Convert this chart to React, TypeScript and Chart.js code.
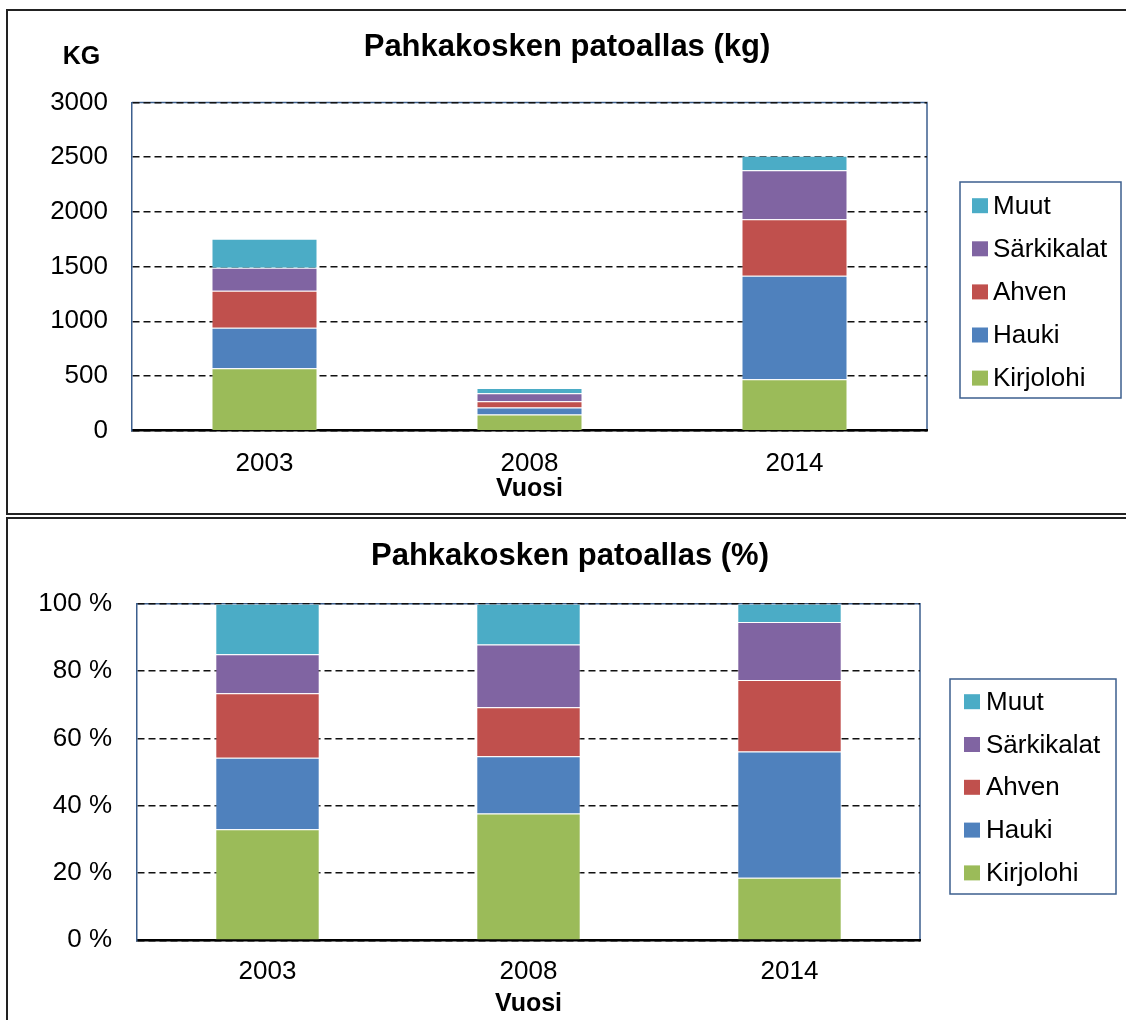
import React, { useEffect, useRef } from "react";
import { Chart, registerables } from "chart.js";

Chart.register(...registerables);

const FONT = "'Liberation Sans', Arial, sans-serif";
Chart.defaults.font.family = FONT;

// ---- data ----
const years = ["2003", "2008", "2014"];
const seriesNames = ["Kirjolohi", "Hauki", "Ahven", "Särkikalat", "Muut"];
const seriesColors = ["#9BBB59", "#4F81BD", "#C0504D", "#8064A2", "#4BACC6"];

// kilograms
const kgKirjolohi = [570, 147, 470];
const kgHauki = [371, 66, 947];
const kgAhven = [339, 57, 515];
const kgSarkikalat = [210, 73, 448];
const kgMuut = [265, 47, 134];

// percent shares
const pctKirjolohi = [33.0, 37.7, 18.6];
const pctHauki = [21.2, 17.0, 37.5];
const pctAhven = [19.2, 14.5, 21.2];
const pctSarkikalat = [11.6, 18.7, 17.3];
const pctMuut = [15.0, 12.1, 5.4];

const kgMax = 3000;
const kgStep = 500;
const pctMax = 100;
const pctStep = 20;

const titleKg = "Pahkakosken patoallas (kg)";
const titlePct = "Pahkakosken patoallas (%)";
const xTitle = "Vuosi";
const yUnitKg = "KG";

const FRAME = "#3C5F8E";

type Spec = {
  top: number;
  height: number;
  area: { left: number; right: number; top: number; bottom: number };
  yLabelRight: number;
  xLabelCenter: number;
  xTitleCenter: number;
  title: string;
  titleX: number;
  titleY: number;
  unit?: string;
  unitX?: number;
  unitY?: number;
  legend: { x: number; y: number; w: number; h: number; sqX: number; textX: number; firstRow: number; rowGap: number };
  series: number[][];
  max: number;
  step: number;
  fmt: (v: number) => string;
};

const W = 1126;

function StackChart({ spec }: { spec: Spec }) {
  const ref = useRef<HTMLCanvasElement>(null);
  useEffect(() => {
    const canvas = ref.current!;
    const s = spec;
    const overlay = {
      id: "overlay",
      beforeDraw(chart: any) {
        const { ctx, chartArea: a } = chart;
        ctx.save();
        ctx.strokeStyle = FRAME;
        ctx.lineWidth = 1.5;
        ctx.beginPath();
        ctx.moveTo(a.left, a.top);
        ctx.lineTo(a.right, a.top);
        ctx.lineTo(a.right, a.bottom);
        ctx.stroke();
        ctx.restore();
      },
      afterDraw(chart: any) {
        const ctx = chart.ctx;
        ctx.save();
        ctx.fillStyle = "#000";
        ctx.textAlign = "center";
        ctx.textBaseline = "middle";
        ctx.font = `bold 31px ${FONT}`;
        ctx.fillText(s.title, s.titleX, s.titleY);
        if (s.unit) {
          ctx.font = `bold 25px ${FONT}`;
          ctx.fillText(s.unit, s.unitX, s.unitY);
        }
        const lb = s.legend;
        ctx.fillStyle = "#fff";
        ctx.fillRect(lb.x, lb.y, lb.w, lb.h);
        ctx.strokeStyle = FRAME;
        ctx.lineWidth = 1.5;
        ctx.strokeRect(lb.x, lb.y, lb.w, lb.h);
        ctx.textAlign = "left";
        ctx.font = `26px ${FONT}`;
        const ds = chart.data.datasets;
        for (let k = 0; k < ds.length; k++) {
          const d = ds[ds.length - 1 - k];
          const cy = lb.firstRow + k * lb.rowGap;
          ctx.fillStyle = d.backgroundColor;
          ctx.fillRect(lb.sqX, cy - 7.5, 16, 15);
          ctx.fillStyle = "#000";
          ctx.fillText(d.label, lb.textX, cy + 1);
        }
        ctx.restore();
      },
    };

    const xAxisH = s.height - s.area.bottom;
    const tickLine = 26 * 1.2;
    const chart = new Chart(canvas, {
      type: "bar",
      data: {
        labels: years,
        datasets: s.series.map((vals, i) => ({
          label: seriesNames[i],
          data: vals,
          backgroundColor: seriesColors[i],
          borderColor: "rgba(255,255,255,0.35)",
          borderWidth: 1,
          categoryPercentage: 1,
          barPercentage: 0.4,
        })),
      },
      options: {
        responsive: false,
        animation: false,
        devicePixelRatio: 1,
        layout: {
          padding: { left: 0, top: s.area.top, right: W - s.area.right, bottom: 0 },
        },
        plugins: {
          legend: { display: false },
          title: { display: false },
          tooltip: { enabled: false },
        },
        scales: {
          x: {
            stacked: true,
            grid: { display: false, drawTicks: false },
            border: { display: true, color: "#000", width: 2.5 },
            ticks: {
              color: "#000",
              font: { size: 26 },
              padding: s.xLabelCenter - s.area.bottom - tickLine / 2,
              maxRotation: 0,
            },
            title: {
              display: true,
              text: xTitle,
              color: "#000",
              font: { size: 25, weight: "bold" },
              padding: { top: 0, bottom: s.height - s.xTitleCenter - 15 },
            },
            afterFit(scale: any) {
              scale.height = xAxisH;
            },
          },
          y: {
            stacked: true,
            min: 0,
            max: s.max,
            grid: { color: "#111", lineWidth: 1.6, drawTicks: false },
            border: { display: true, color: FRAME, width: 1.5, dash: [7, 4] },
            ticks: {
              stepSize: s.step,
              color: "#000",
              font: { size: 26 },
              padding: s.area.left - s.yLabelRight,
              callback: (v: any) => s.fmt(Number(v)),
            },
            afterFit(scale: any) {
              scale.width = s.area.left;
            },
          },
        },
      },
      plugins: [overlay],
    } as any);
    return () => chart.destroy();
  }, [spec]);
  return (
    <canvas
      ref={ref}
      width={W}
      height={spec.height}
      style={{ position: "absolute", left: 0, top: spec.top, width: W, height: spec.height }}
    />
  );
}

const topSpec: Spec = {
  top: 0,
  height: 514,
  area: { left: 132, right: 927, top: 102.5, bottom: 430.7 },
  yLabelRight: 108,
  xLabelCenter: 464,
  xTitleCenter: 489,
  title: titleKg,
  titleX: 567,
  titleY: 47,
  unit: yUnitKg,
  unitX: 81.5,
  unitY: 57,
  legend: { x: 960, y: 182, w: 161, h: 216, sqX: 972, textX: 993, firstRow: 205.7, rowGap: 43.1 },
  series: [kgKirjolohi, kgHauki, kgAhven, kgSarkikalat, kgMuut],
  max: kgMax,
  step: kgStep,
  fmt: (v) => String(v),
};

const bottomSpec: Spec = {
  top: 518,
  height: 502,
  area: { left: 137, right: 920, top: 85.7, bottom: 422.3 },
  yLabelRight: 112,
  xLabelCenter: 454,
  xTitleCenter: 486,
  title: titlePct,
  titleX: 570,
  titleY: 38,
  legend: { x: 950, y: 161, w: 166, h: 215, sqX: 964, textX: 986, firstRow: 183.7, rowGap: 42.8 },
  series: [pctKirjolohi, pctHauki, pctAhven, pctSarkikalat, pctMuut],
  max: pctMax,
  step: pctStep,
  fmt: (v) => `${v} %`,
};

export default function App() {
  return (
    <>
      <StackChart spec={topSpec} />
      <StackChart spec={bottomSpec} />
      <div
        style={{
          position: "absolute",
          left: 6,
          top: 9,
          width: W - 8,
          height: 502,
          borderLeft: "2px solid #222",
          borderTop: "2px solid #222",
          borderBottom: "2px solid #222",
          pointerEvents: "none",
        }}
      />
      <div
        style={{
          position: "absolute",
          left: 6,
          top: 517,
          width: W - 8,
          height: 501,
          borderLeft: "2px solid #222",
          borderTop: "2px solid #222",
          pointerEvents: "none",
        }}
      />
    </>
  );
}
